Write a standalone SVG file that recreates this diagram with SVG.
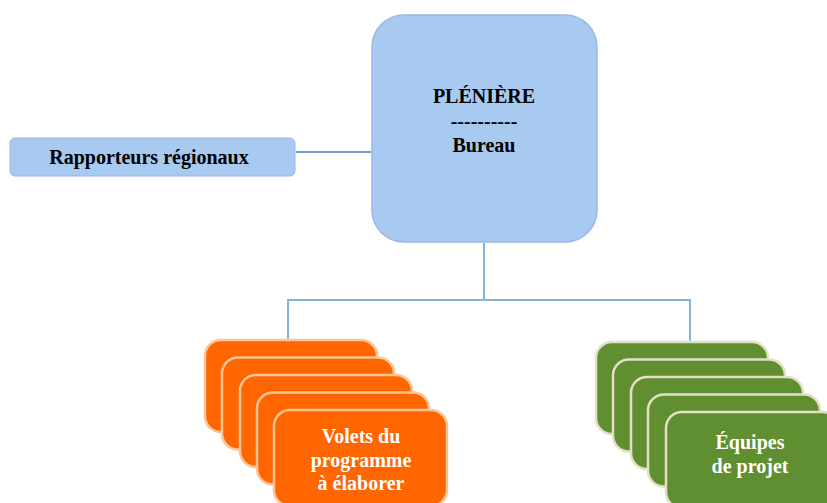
<svg xmlns="http://www.w3.org/2000/svg" width="827" height="503" viewBox="0 0 827 503">
<style>
.t{font-family:"Liberation Serif","Times New Roman",serif;font-weight:bold;text-anchor:middle}
.blue{fill:#a8caf0;stroke:#9bb8e6;stroke-width:1.5}
.or{fill:#ff6600;stroke:#fbc497;stroke-width:2.5}
.gr{fill:#5f8f30;stroke:#e3dfc6;stroke-width:2.5}
.c{fill:none;stroke:#86b3d8;stroke-width:2}
</style>
<rect width="827" height="503" fill="#ffffff"/>
<g id="connectors">
<line class="c" x1="296" y1="152" x2="371" y2="152" style="stroke:#6f9fd2"/>
<line class="c" x1="484" y1="243" x2="484" y2="300"/>
<polyline class="c" points="288,342 288,300 690,300 690,344"/>
</g>
<g id="pleniere">
<rect class="blue" x="372" y="15" width="225" height="227" rx="32"/>
<text class="t" x="484" y="103" font-size="20">PLÉNIÈRE</text>
<text class="t" x="484" y="128" font-size="20">----------</text>
<text class="t" x="484" y="152" font-size="20">Bureau</text>
</g>
<g id="rapporteurs">
<rect class="blue" x="10" y="138" width="285" height="38" rx="5" style="stroke-width:1"/>
<text class="t" x="149" y="164" font-size="20">Rapporteurs régionaux</text>
</g>
<g id="volets">
<rect class="or" x="205" y="340" width="172" height="92" rx="16"/>
<rect class="or" x="222" y="357.5" width="172" height="92" rx="16"/>
<rect class="or" x="240" y="375" width="172" height="92" rx="16"/>
<rect class="or" x="257" y="392.5" width="172" height="92" rx="16"/>
<rect class="or" x="274" y="410" width="173" height="96" rx="16"/>
<text class="t" x="361" y="443" font-size="20" fill="#ffffff">Volets du</text>
<text class="t" x="361" y="467" font-size="20" fill="#ffffff">programme</text>
<text class="t" x="361" y="490" font-size="20" fill="#ffffff">à élaborer</text>
</g>
<g id="equipes">
<rect class="gr" x="596" y="342" width="172" height="92" rx="16"/>
<rect class="gr" x="613" y="359.5" width="172" height="92" rx="16"/>
<rect class="gr" x="631" y="377" width="172" height="92" rx="16"/>
<rect class="gr" x="648" y="394.5" width="172" height="92" rx="16"/>
<rect class="gr" x="666" y="412" width="173" height="96" rx="16"/>
<text class="t" x="750" y="449" font-size="20" fill="#ffffff">Équipes</text>
<text class="t" x="750" y="473" font-size="20" fill="#ffffff">de projet</text>
</g>
</svg>
